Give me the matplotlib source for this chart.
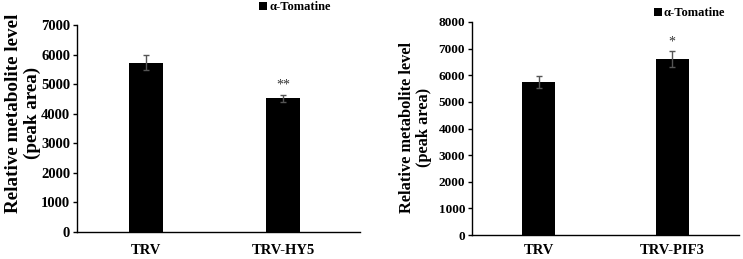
import matplotlib
matplotlib.use("Agg")
import matplotlib.pyplot as plt

plt.rcParams["font.family"] = ["Liberation Serif", "DejaVu Serif"]
plt.rcParams["font.weight"] = "bold"

# left panel
hy5_groups = ["TRV", "TRV-HY5"]
hy5_values = [5730, 4520]
hy5_errors = [240, 110]
hy5_marks = ["", "**"]

# right panel
pif3_groups = ["TRV", "TRV-PIF3"]
pif3_values = [5750, 6600]
pif3_errors = [230, 300]
pif3_marks = ["", "*"]

series_name = "\u03b1-Tomatine"
ylabel = "Relative metabolite level\n(peak area)"

W, H = 743, 259
fig = plt.figure(figsize=(W / 100, H / 100), dpi=100)


def px_axes(x0, y_top, x1, y_bot):
    return fig.add_axes([x0 / W, (H - y_bot) / H, (x1 - x0) / W, (y_bot - y_top) / H])


def panel(ax, groups, values, errors, marks, ymax, xmax, legend_xy, xpad,
          tick_size, label_size, label_pos):
    x = range(len(groups))
    bars = ax.bar(x, values, width=0.25, color="black", label=series_name, zorder=2)
    ax.errorbar(x, values, yerr=errors, fmt="none", ecolor="#555555",
                elinewidth=1, capsize=2.5, capthick=1, zorder=3)
    for xi, v, e, m in zip(x, values, errors, marks):
        if m:
            ax.text(xi, v + e + ymax * 0.015, m, ha="center", va="bottom",
                    fontsize=10, color="#333333", fontweight="normal")
    ax.set_xlim(-0.5, xmax)
    ax.set_ylim(0, ymax)
    ax.set_yticks(range(0, ymax + 1, 1000))
    ax.set_xticks(list(x))
    ax.set_xticklabels(groups, fontsize=10.5, fontweight="bold")
    ax.tick_params(axis="x", length=0, pad=xpad)
    ax.tick_params(axis="y", length=3, width=1, labelsize=tick_size, pad=2, direction="out")
    for lbl in ax.get_yticklabels():
        lbl.set_fontweight("bold")
    for s in ("top", "right"):
        ax.spines[s].set_visible(False)
    for s in ("left", "bottom"):
        ax.spines[s].set_linewidth(1)
    ax.set_ylabel(ylabel, fontsize=label_size, fontweight="bold", linespacing=1.1)
    ax.yaxis.set_label_coords(*label_pos)
    ax.legend(handles=[bars], loc="center left", frameon=False,
              bbox_to_anchor=(legend_xy[0] / W, 1 - legend_xy[1] / H),
              bbox_transform=fig.transFigure, handlelength=0.6, handleheight=0.6,
              handletextpad=0.2, borderpad=0, borderaxespad=0,
              prop={"family": ["Liberation Serif"], "weight": "bold", "size": 9})


ax1 = px_axes(77, 25, 360, 232)
panel(ax1, hy5_groups, hy5_values, hy5_errors, hy5_marks, 7000, 1.56, (259, 7), 8.5,
      10.5, 13.8, ((41 - 77) / 283, (232 - 113) / 207))

ax2 = px_axes(472, 22, 739, 235)
panel(ax2, pif3_groups, pif3_values, pif3_errors, pif3_marks, 8000, 1.5, (654, 13), 6.5,
      9.5, 11.8, ((432 - 472) / 267, (235 - 127.5) / 213))

fig.savefig("out.png", dpi=100)
